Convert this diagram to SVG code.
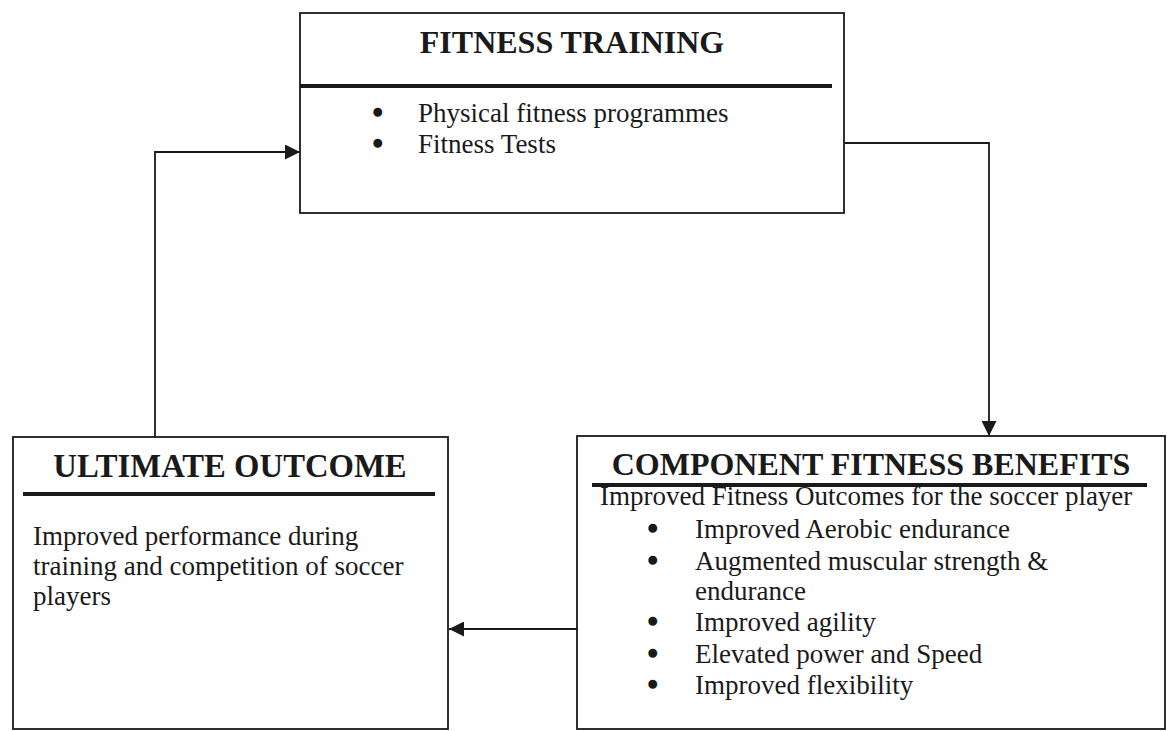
<svg xmlns="http://www.w3.org/2000/svg" width="1167" height="731" viewBox="0 0 1167 731">
<style>
.box{fill:#fff;stroke:#1a1a1a;stroke-width:1.8}
.sep{stroke:#1a1a1a;stroke-width:4}
.title{font-family:"Liberation Serif","Times New Roman",serif;font-weight:bold;font-size:32px;fill:#1a1a1a}
.txt{font-family:"Liberation Serif","Times New Roman",serif;font-size:27px;fill:#1a1a1a}
.bul{font-family:"Liberation Serif","Times New Roman",serif;font-size:27px;fill:#1a1a1a;stroke:#1a1a1a;stroke-width:2.4}
.conn{fill:none;stroke:#1a1a1a;stroke-width:1.8}
</style>
<defs>
<marker id="arr" viewBox="0 0 10 10" refX="10" refY="5" markerWidth="15" markerHeight="15" markerUnits="userSpaceOnUse" orient="auto">
<path d="M0,0 L10,5 L0,10 Z" fill="#1a1a1a"/>
</marker>
</defs>
<rect width="1167" height="731" fill="#fff"/>
<g id="connectors">
<path class="conn" d="M155,437 V152 H300" marker-end="url(#arr)"/>
<path class="conn" d="M844,143 H989 V436" marker-end="url(#arr)"/>
<path class="conn" d="M577,629 H449" marker-end="url(#arr)"/>
</g>
<g id="fitness-training">
<rect class="box" x="300" y="13" width="544" height="200"/>
<text class="title" x="572" y="53" text-anchor="middle">FITNESS TRAINING</text>
<line class="sep" x1="300" y1="86" x2="832" y2="86"/>
<text class="bul" x="373" y="122">•</text>
<text class="txt" x="418" y="122">Physical fitness programmes</text>
<text class="bul" x="373" y="153">•</text>
<text class="txt" x="418" y="153">Fitness Tests</text>
</g>
<g id="ultimate-outcome">
<rect class="box" x="13" y="437" width="435" height="292"/>
<text class="title" x="230" y="477" text-anchor="middle" style="font-size:32.7px">ULTIMATE OUTCOME</text>
<line class="sep" x1="23" y1="494" x2="435" y2="494"/>
<text class="txt" x="33" y="545">Improved performance during</text>
<text class="txt" x="33" y="575">training and competition of soccer</text>
<text class="txt" x="33" y="605">players</text>
</g>
<g id="component-fitness-benefits">
<rect class="box" x="577" y="436" width="588" height="293"/>
<text class="title" x="871" y="475" text-anchor="middle">COMPONENT FITNESS BENEFITS</text>
<line class="sep" x1="592" y1="485" x2="1147" y2="485"/>
<text class="txt" x="600" y="505">Improved Fitness Outcomes for the soccer player</text>
<text class="bul" x="648" y="538">•</text>
<text class="txt" x="695" y="538">Improved Aerobic endurance</text>
<text class="bul" x="648" y="570">•</text>
<text class="txt" x="695" y="570">Augmented muscular strength &amp;</text>
<text class="txt" x="695" y="600">endurance</text>
<text class="bul" x="648" y="631">•</text>
<text class="txt" x="695" y="631">Improved agility</text>
<text class="bul" x="648" y="663">•</text>
<text class="txt" x="695" y="663">Elevated power and Speed</text>
<text class="bul" x="648" y="694">•</text>
<text class="txt" x="695" y="694">Improved flexibility</text>
</g>
</svg>
